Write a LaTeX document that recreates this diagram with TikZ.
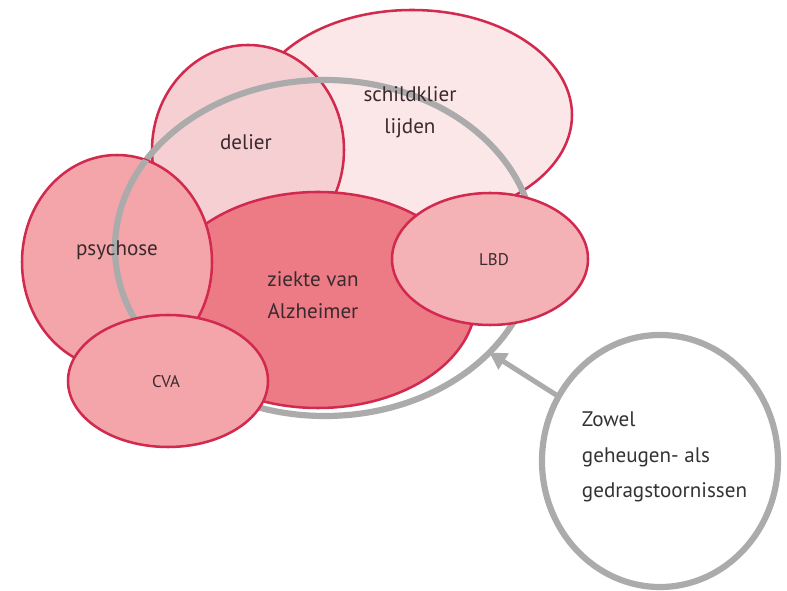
\documentclass[tikz,border=0pt]{standalone}
\usepackage{fontspec}
\setmainfont{PT Sans}
\usetikzlibrary{arrows.meta,shapes.geometric}
\definecolor{dxRed}{HTML}{D22A4E}
\definecolor{dxGray}{HTML}{ABABAB}
\definecolor{dxText}{HTML}{3A2A2D}
\definecolor{dxNote}{HTML}{333333}
\definecolor{dxPale}{HTML}{FCE7E8}
\definecolor{dxLight}{HTML}{F6CFD2}
\definecolor{dxRose}{HTML}{F3A5AA}
\definecolor{dxDeep}{HTML}{EC7B85}
\definecolor{dxSoft}{HTML}{F4B2B7}
\tikzset{
  disorder/.style={ellipse, draw=dxRed, line width=1.8pt,
    inner sep=0pt, outer sep=0pt},
  disorder label/.style={text=dxText, align=center,
    font=\fontsize{15}{22.5}\selectfont},
  small label/.style={text=dxText, font=\fontsize{12}{14}\selectfont},
  gray ring/.style={ellipse, draw=dxGray, line width=4.4pt,
    inner sep=0pt, outer sep=0pt},
  pointer/.style={-{Triangle[length=12pt,width=13pt]}, line width=3.6pt,
    draw=dxGray}
}

\begin{document}
\begin{tikzpicture}
  \useasboundingbox (0,0) rectangle (19.675,14.775);
  % overlapping disorders
  \node[disorder, fill=dxPale, minimum width=8cm, minimum height=5.25cm]
    (thyroid) at (10.3,11.9) {};
  \node[disorder, fill=dxLight, minimum width=4.8cm, minimum height=5.25cm]
    (delirium) at (6.2,11.025) {};
  \node[gray ring, minimum width=10.5cm, minimum height=8.4cm]
    (both) at (8.125,8.575) {};
  \node[disorder, fill=dxDeep, minimum width=7.9cm, minimum height=5.4cm]
    (alzheimer) at (7.95,7.275) {};
  \node[disorder, fill=dxRose, minimum width=4.75cm, minimum height=5.35cm]
    (psychosis) at (2.925,8.225) {};
  % gray ring stays visible over psychose
  \begin{scope}
    \clip (psychosis.center) ellipse [x radius=2.375cm, y radius=2.675cm];
    \draw[dxGray, line width=4.4pt] (both.center)
      ellipse [x radius=5.25cm, y radius=4.2cm];
  \end{scope}
  \node[disorder, fill=dxSoft, minimum width=4.9cm, minimum height=3.3cm]
    (lbd) at (12.25,8.3) {};
  \node[disorder, fill=dxRose, minimum width=5cm, minimum height=3.3cm]
    (cva) at (4.2,5.25) {};

  \node[disorder label] (thyroid text) at (10.25,11.975)
    {schildklier\\lijden};
  \node[disorder label] (delirium text) at (6.15,11.225) {delier};
  \node[disorder label] (psychosis text) at (2.925,8.525) {psychose};
  \node[disorder label] (alzheimer text) at (7.825,7.4)
    {ziekte van\\Alzheimer};
  \node[small label] (lbd text) at (12.35,8.275) {LBD};
  \node[small label] (cva text) at (4.15,5.225) {CVA};

  % explanation circle
  \node[gray ring, minimum width=5.9cm, minimum height=6.3cm]
    (note) at (16.5,3.25) {};
  \node[text=dxNote, align=left, anchor=west,
    font=\fontsize{15}{25}\selectfont] (note text) at (14.425,3.35)
    {Zowel\\geheugen- als\\gedragstoornissen};
  \draw[pointer] (note) -- (both);
\end{tikzpicture}
\end{document}
